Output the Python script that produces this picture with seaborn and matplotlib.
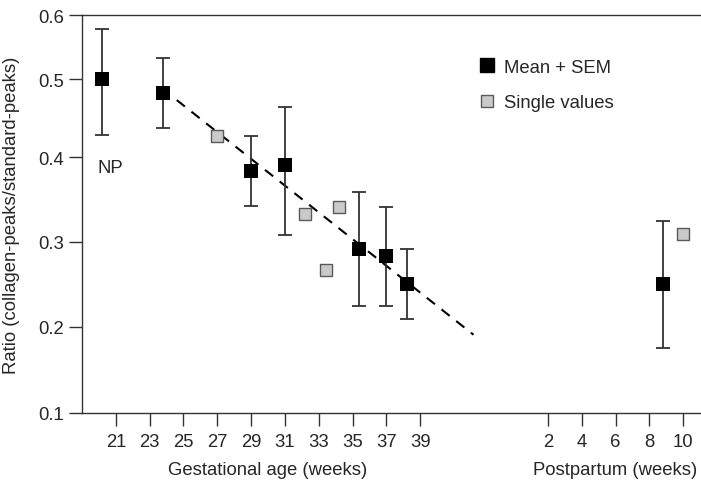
import numpy as np
import pandas as pd
import seaborn as sns
import matplotlib.pyplot as plt
from matplotlib.lines import Line2D
from matplotlib.transforms import blended_transform_factory

# mean +/- SEM, gestational age (weeks); first one is the NP group
mean_wk = [20.2, 23.8, 29.0, 31.0, 35.4, 37.0, 38.2]
mean_ratio = [0.500, 0.482, 0.384, 0.391, 0.292, 0.284, 0.250]
sem_high = [0.578, 0.533, 0.427, 0.464, 0.359, 0.341, 0.292]
sem_low = [0.428, 0.437, 0.342, 0.308, 0.225, 0.225, 0.209]

# mean +/- SEM postpartum (weeks)
pp_mean_wk = [8.8]
pp_mean_ratio = [0.250]
pp_sem_high = [0.325]
pp_sem_low = [0.175]

# single values
single_wk = [27.0, 32.2, 33.4, 34.2]
single_ratio = [0.427, 0.333, 0.267, 0.341]
pp_single_wk = [10.0]
pp_single_ratio = [0.309]

# regression line
trend_wk = [24.6, 42.15]
trend_ratio = [0.473, 0.191]

gest_ticks = [21, 23, 25, 27, 29, 31, 33, 35, 37, 39]
pp_ticks = [2, 4, 6, 8, 10]
y_ticks = [0.1, 0.2, 0.3, 0.4, 0.5, 0.6]

# postpartum weeks are drawn to the right of the gestational weeks
PP_OFFSET = 44.55

# the printed y axis is not evenly spaced, follow its tick positions
y_pix = [-86, 0, 86, 171, 256, 334, 398, 462]
y_val = [0.0, 0.1, 0.2, 0.3, 0.4, 0.5, 0.6, 0.7]


def fwd(v):
    return np.interp(v, y_val, y_pix)


def inv(p):
    return np.interp(p, y_pix, y_val)


means = pd.DataFrame({
    'x': mean_wk + [w + PP_OFFSET for w in pp_mean_wk],
    'y': mean_ratio + pp_mean_ratio,
    'hi': sem_high + pp_sem_high,
    'lo': sem_low + pp_sem_low,
})
singles = pd.DataFrame({
    'x': single_wk + [w + PP_OFFSET for w in pp_single_wk],
    'y': single_ratio + pp_single_ratio,
})

sns.set_style('ticks')
plt.rcParams['font.family'] = ['Liberation Sans', 'DejaVu Sans']
fs = 13.3

dark = '#333333'
fig = plt.figure(figsize=(7.01, 4.85), dpi=100)
ax = fig.add_axes([0.117, 0.1464, 0.883, 0.8206])
ax.set_yscale('function', functions=(fwd, inv))

ax.errorbar(means['x'], means['y'],
            yerr=[means['y'] - means['lo'], means['hi'] - means['y']],
            fmt='none', ecolor=dark, elinewidth=1.3, capsize=5, capthick=1.3,
            zorder=2)

sns.lineplot(x=trend_wk, y=trend_ratio, ax=ax, color='black', linewidth=1.5,
             linestyle=(0, (5, 4)), zorder=1)

sns.scatterplot(data=means, x='x', y='y', ax=ax, marker='s', s=106,
                color='black', edgecolor='black', linewidth=0, zorder=3)
sns.scatterplot(data=singles, x='x', y='y', ax=ax, marker='s', s=80,
                color='#cacaca', edgecolor='#5a5a5a', linewidth=1, zorder=3)

ax.text(20.65, 0.388, 'NP', ha='center', va='center', fontsize=fs)

ax.set_xlim(19, 55.6)
ax.set_ylim(0.1, 0.6)
ax.set_xticks(gest_ticks + [t + PP_OFFSET for t in pp_ticks])
ax.set_xticklabels([str(t) for t in gest_ticks] + [str(t) for t in pp_ticks])
ax.set_yticks(y_ticks)
ax.set_yticklabels([f'{t:.1f}' for t in y_ticks])
ax.yaxis.set_minor_locator(plt.NullLocator())
ax.tick_params(axis='both', length=9.5, width=1, color=dark, labelsize=fs)
ax.tick_params(axis='x', pad=5)
ax.tick_params(axis='y', pad=3.5)

for side in ['left', 'bottom', 'top']:
    ax.spines[side].set_color(dark)
    ax.spines[side].set_linewidth(1)
ax.spines['right'].set_visible(False)

ax.set_xlabel('')
ax.set_ylabel('Ratio (collagen-peaks/standard-peaks)', fontsize=fs)
ax.yaxis.set_label_coords(-0.1, 0.5)

trans = blended_transform_factory(ax.transData, ax.transAxes)
ax.text(30, -0.143, 'Gestational age (weeks)', transform=trans,
        ha='center', va='center', fontsize=fs)
ax.text(6 + PP_OFFSET, -0.143, 'Postpartum (weeks)', transform=trans,
        ha='center', va='center', fontsize=fs)

handles = [
    Line2D([], [], marker='s', ls='none', markersize=10,
           markerfacecolor='black', markeredgecolor='black'),
    Line2D([], [], marker='s', ls='none', markersize=9,
           markerfacecolor='#cacaca', markeredgecolor='#5a5a5a'),
]
ax.legend(handles, ['Mean + SEM', 'Single values'], loc='upper left',
          bbox_to_anchor=(0.643, 0.89), frameon=False, borderpad=0,
          borderaxespad=0, handlelength=0.8, handletextpad=0.5,
          labelspacing=1.0, fontsize=fs)

fig.savefig('out.png', dpi=100)
